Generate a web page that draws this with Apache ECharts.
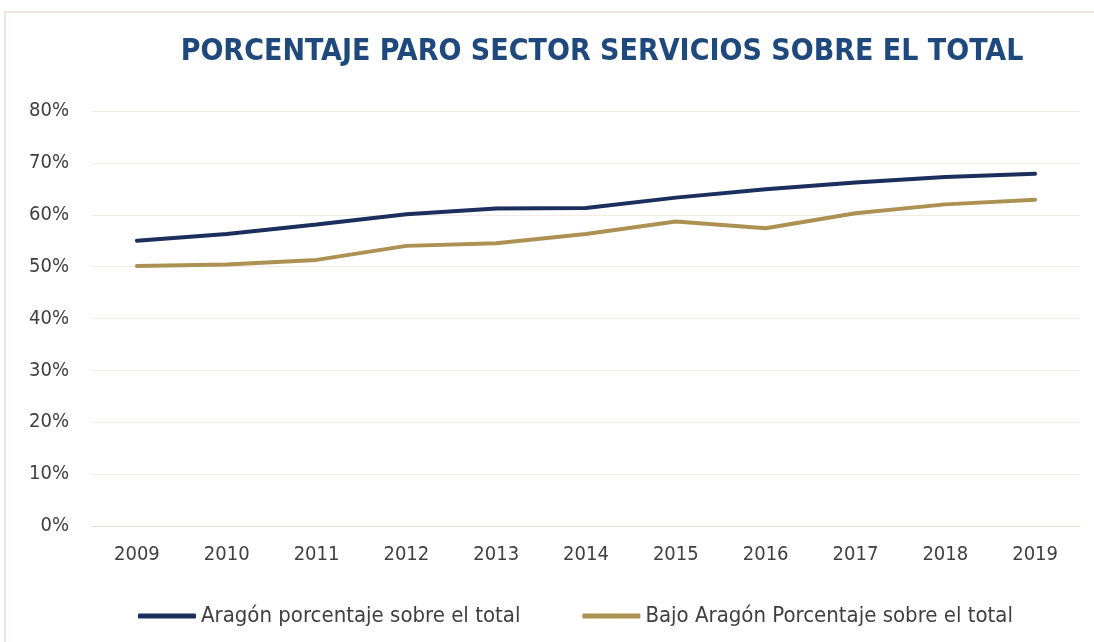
<!DOCTYPE html>
<html>
<head>
<meta charset="utf-8">
<script src="https://cdn.jsdelivr.net/npm/echarts@6/dist/echarts.min.js"></script>
<style>
  html, body { margin: 0; padding: 0; background: #fff; }
  #frame { position: absolute; left: 4px; top: 11px; width: 1100px; height: 640px; border: 2px solid #ece6da; box-sizing: border-box; }
  #chart { position: absolute; left: 0; top: 0; width: 1094px; height: 642px; }
</style>
</head>
<body>
<div id="frame"></div>
<div id="chart"></div>
<script>
  // años
  const years = ['2009', '2010', '2011', '2012', '2013', '2014', '2015', '2016', '2017', '2018', '2019'];
  // % paro servicios sobre el total
  const aragon = [55.0, 56.3, 58.1, 60.1, 61.2, 61.3, 63.3, 64.9, 66.2, 67.3, 67.9];
  const bajoAragon = [50.1, 50.4, 51.3, 54.0, 54.5, 56.3, 58.7, 57.4, 60.3, 62.0, 62.9];
  const seriesNames = ['Aragón porcentaje sobre el total', 'Bajo Aragón Porcentaje sobre el total'];

  var chartDom = document.getElementById('chart');
  var myChart = echarts.init(chartDom);
  var font = '"Liberation Sans Narrow", "DejaVu Sans Condensed", "Open Sans", sans-serif';

  var option = {
    animation: false,
    title: {
      text: 'PORCENTAJE PARO SECTOR SERVICIOS SOBRE EL TOTAL',
      left: 597,
      textAlign: 'center',
      top: 32,
      textStyle: { color: '#1f497d', fontSize: 30, fontWeight: 'bold', fontFamily: font }
    },
    grid: { left: 92, right: 14, top: 111, bottom: 116 },
    legend: {
      bottom: 10,
      left: 133,
      itemGap: 62,
      itemWidth: 58,
      itemHeight: 5,
      icon: 'roundRect',
      textStyle: { color: '#404040', fontSize: 22, fontFamily: font },
      data: seriesNames
    },
    xAxis: {
      type: 'category',
      data: years,
      boundaryGap: true,
      axisLine: { show: true, lineStyle: { color: '#e3ddd3' } },
      axisTick: { show: false },
      axisLabel: { color: '#404040', fontSize: 20, margin: 19, fontFamily: font }
    },
    yAxis: {
      type: 'value',
      min: 0,
      max: 80,
      interval: 10,
      axisLine: { show: false },
      axisTick: { show: false },
      splitLine: { lineStyle: { color: '#efebe5', width: 1 } },
      axisLabel: { color: '#404040', fontSize: 20, margin: 23, fontFamily: font, formatter: '{value}%' }
    },
    series: [
      {
        name: seriesNames[0],
        type: 'line',
        data: aragon,
        symbol: 'none',
        lineStyle: { color: '#1b2e5e', width: 4, cap: 'round' },
        itemStyle: { color: '#1b2e5e' }
      },
      {
        name: seriesNames[1],
        type: 'line',
        data: bajoAragon,
        symbol: 'none',
        lineStyle: { color: '#ad9152', width: 4, cap: 'round' },
        itemStyle: { color: '#ad9152' }
      }
    ]
  };

  option && myChart.setOption(option);
</script>
</body>
</html>
